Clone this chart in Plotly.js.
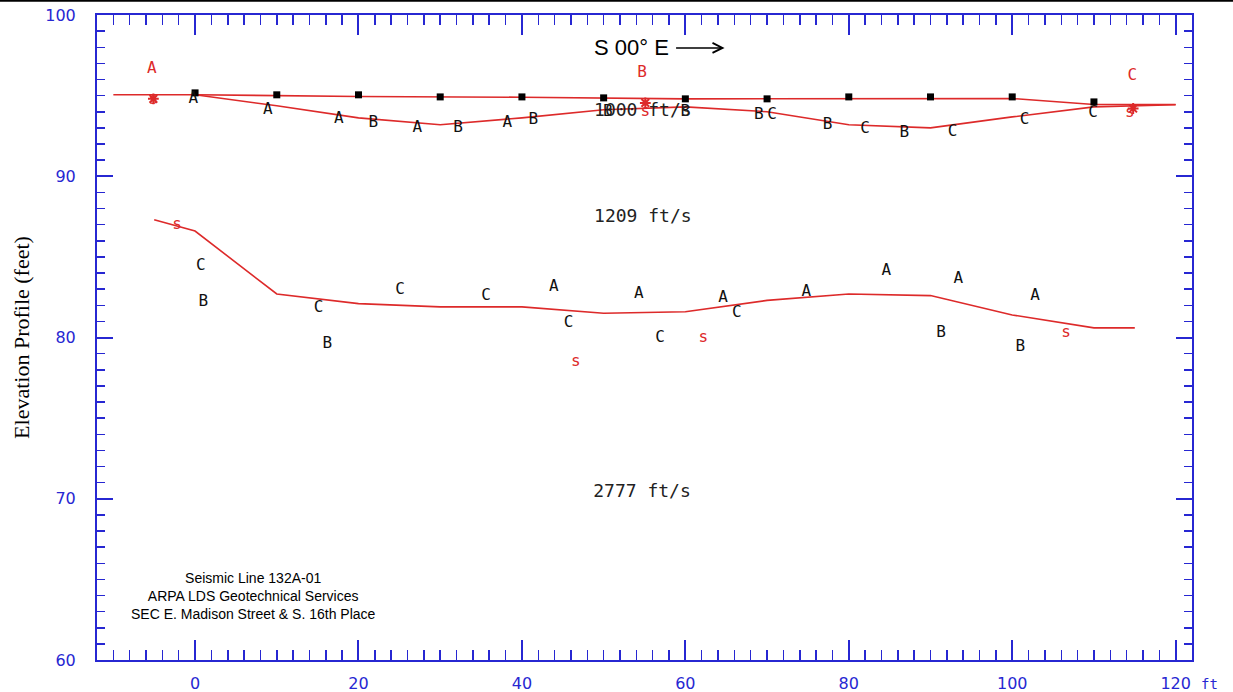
<!DOCTYPE html>
<html>
<head>
<meta charset="utf-8">
<script src="https://cdn.plot.ly/plotly-3.0.1.min.js"></script>
<style>html,body{margin:0;padding:0;background:#fff;}#chart{width:1233px;height:692px;}</style>
</head>
<body>
<div id="chart"></div>
<script>
// ---- data ----
var surfaceX = [-10, 0, 20, 40, 60, 80, 90, 100, 110, 120];
var surfaceY = [95.05, 95.05, 94.95, 94.9, 94.8, 94.82, 94.82, 94.82, 94.45, 94.45];

var boundary1X = [0, 10, 20, 30, 40, 50, 60, 70, 80, 90, 100, 110, 120];
var boundary1Y = [95.05, 94.37, 93.62, 93.19, 93.62, 94.12, 94.3, 94.0, 93.19, 93.0, 93.68, 94.3, 94.43];

var boundary2X = [-5, 0, 10, 20, 30, 40, 50, 60, 70, 80, 90, 100, 110, 115];
var boundary2Y = [87.3, 86.6, 82.7, 82.1, 81.9, 81.9, 81.5, 81.6, 82.3, 82.7, 82.6, 81.4, 80.6, 80.6];

var geophoneX = [0, 10, 20, 30, 40, 50, 60, 70, 80, 90, 100, 110];
var geophoneY = [95.17, 95.05, 95.05, 94.92, 94.92, 94.86, 94.8, 94.8, 94.92, 94.92, 94.92, 94.61];

var shotX = [-5.1, 55.1, 114.8];
var shotY = [94.8, 94.55, 94.2];

var blackLetters = ["A","A","A","B","A","B","A","B","B","B","B","C","B","C","B","C","C","C",
                    "C","B","C","B","C","C","A","C","A","C","A","C","A","A","B","A","A","B"];
var blackLetterX = [-0.2, 8.9, 17.6, 21.8, 27.2, 32.2, 38.2, 41.4, 50.5, 60.0, 69.0, 70.6, 77.4, 82.0, 86.8, 92.7, 101.5, 109.9,
                    0.7, 1.0, 15.1, 16.2, 25.1, 35.6, 43.9, 45.7, 54.3, 56.9, 64.6, 66.3, 74.8, 84.6, 91.3, 93.4, 102.8, 101.0];
var blackLetterY = [94.8, 94.12, 93.56, 93.3, 93.0, 93.0, 93.3, 93.5, 94.0, 94.0, 93.8, 93.8, 93.2, 92.94, 92.7, 92.76, 93.5, 93.9,
                    84.46, 82.2, 81.8, 79.6, 82.97, 82.6, 83.16, 80.93, 82.7, 79.94, 82.48, 81.5, 82.85, 84.1, 80.3, 83.65, 82.6, 79.4];

var redLetters = ["A","s","B","s","C","s","s","s","s","s"];
var redLetterX = [-5.3, -5.1, 54.7, 55.1, 114.7, 114.4, -2.2, 46.6, 62.2, 106.6];
var redLetterY = [96.66, 94.7, 96.4, 94.0, 96.2, 93.9, 87.0, 78.5, 80.0, 80.3];

var velocityLabels = ["1000 ft/s", "1209 ft/s", "2777 ft/s"];
var velocityX = [54.8, 54.8, 54.7];
var velocityY = [94.0, 87.43, 70.4];

var xTickVals = [0, 20, 40, 60, 80, 100, 120];
var yTickVals = [60, 70, 80, 90, 100];
var xRange = [-12, 122];
var yRange = [60, 100];

// ---- styles ----
var BLUE = '#2727d2';
var RED = '#dd2a2a';
var MONO = 'DejaVu Sans Mono, monospace';

var traces = [
  {x: surfaceX, y: surfaceY, mode: 'lines', line: {color: RED, width: 1.6}, hoverinfo: 'skip'},
  {x: boundary1X, y: boundary1Y, mode: 'lines', line: {color: RED, width: 1.6}, hoverinfo: 'skip'},
  {x: boundary2X, y: boundary2Y, mode: 'lines', line: {color: RED, width: 1.6}, hoverinfo: 'skip'},
  {x: geophoneX, y: geophoneY, mode: 'markers', marker: {symbol: 'square', size: 7, color: '#000'}, hoverinfo: 'skip'},
  {x: shotX, y: shotY, mode: 'markers', marker: {symbol: 'asterisk-open', size: 9, color: RED, line: {color: RED, width: 2}}, hoverinfo: 'skip'},
  {x: blackLetterX, y: blackLetterY, text: blackLetters, mode: 'text', textposition: 'middle center',
   textfont: {family: MONO, size: 16, color: '#111'}, hoverinfo: 'skip'},
  {x: redLetterX, y: redLetterY, text: redLetters, mode: 'text', textposition: 'middle center',
   textfont: {family: MONO, size: 16, color: RED}, hoverinfo: 'skip'},
  {x: velocityX, y: velocityY, text: velocityLabels, mode: 'text', textposition: 'middle center',
   xaxis: 'x2', yaxis: 'y2',
   textfont: {family: MONO, size: 18, color: '#222'}, hoverinfo: 'skip'}
];

function xAxis(extra) {
  var a = {
    range: xRange, tickvals: xTickVals, ticktext: xTickVals.map(String),
    ticks: 'inside', ticklen: 20, tickwidth: 2, tickcolor: BLUE,
    minor: {dtick: 2, tick0: 0, ticks: 'inside', ticklen: 10, tickwidth: 1.5, tickcolor: BLUE, showgrid: false},
    showline: true, linecolor: BLUE, linewidth: 2,
    showgrid: false, zeroline: false, automargin: false,
    ticklabelstandoff: 8,
    tickfont: {family: 'DejaVu Sans', size: 16, color: BLUE}
  };
  for (var k in extra) a[k] = extra[k];
  return a;
}
function yAxis(extra) {
  var a = {
    range: yRange, tickvals: yTickVals, ticktext: yTickVals.map(String),
    ticks: 'inside', ticklen: 16, tickwidth: 2, tickcolor: BLUE,
    minor: {dtick: 1, tick0: 60, ticks: 'inside', ticklen: 8, tickwidth: 1.5, tickcolor: BLUE, showgrid: false},
    showline: true, linecolor: BLUE, linewidth: 2,
    showgrid: false, zeroline: false, automargin: false,
    ticklabelstandoff: 16,
    tickfont: {family: 'DejaVu Sans', size: 16, color: BLUE}
  };
  for (var k in extra) a[k] = extra[k];
  return a;
}

var layout = {
  width: 1233, height: 692,
  margin: {l: 97, r: 41, t: 15, b: 32, pad: 0},
  paper_bgcolor: '#fff', plot_bgcolor: '#fff',
  showlegend: false,
  xaxis: xAxis({}),
  yaxis: yAxis({
    title: {text: 'Elevation Profile (feet)', font: {family: 'Liberation Serif, serif', size: 22, color: '#000'}, standoff: 10}
  }),
  xaxis2: xAxis({overlaying: 'x', side: 'top', showticklabels: false}),
  yaxis2: yAxis({overlaying: 'y', side: 'right', showticklabels: false}),
  annotations: [
    {text: 'S 00° E', x: 58.2, y: 97.96, xref: 'x', yref: 'y', showarrow: false, xanchor: 'right',
     font: {family: 'Liberation Sans, Arial, sans-serif', size: 22, color: '#000'}},
    {text: '', x: 64.8, y: 97.96, xref: 'x', yref: 'y', ax: -50, ay: 0, showarrow: true,
     arrowhead: 5, arrowsize: 1.3, arrowwidth: 1.5, arrowcolor: '#000'},
    {text: 'Seismic Line 132A-01<br>ARPA LDS Geotechnical Services<br>SEC E. Madison Street &amp; S. 16th Place',
     x: 7.1, y: 64.0, xref: 'x', yref: 'y', showarrow: false, align: 'center',
     font: {family: 'Liberation Sans, Arial, sans-serif', size: 14, color: '#000'}},
    {text: 'ft', x: 1.016, y: -0.037, xref: 'paper', yref: 'paper', showarrow: false,
     xanchor: 'center', yanchor: 'middle', font: {family: MONO, size: 14, color: BLUE}}
  ],
  shapes: [
    {type: 'line', xref: 'paper', yref: 'paper', x0: -0.09, x1: 1.038, y0: 1.022, y1: 1.022,
     line: {color: '#000', width: 2}}
  ]
};

Plotly.newPlot('chart', traces, layout, {displayModeBar: false, staticPlot: true});
</script>
</body>
</html>
